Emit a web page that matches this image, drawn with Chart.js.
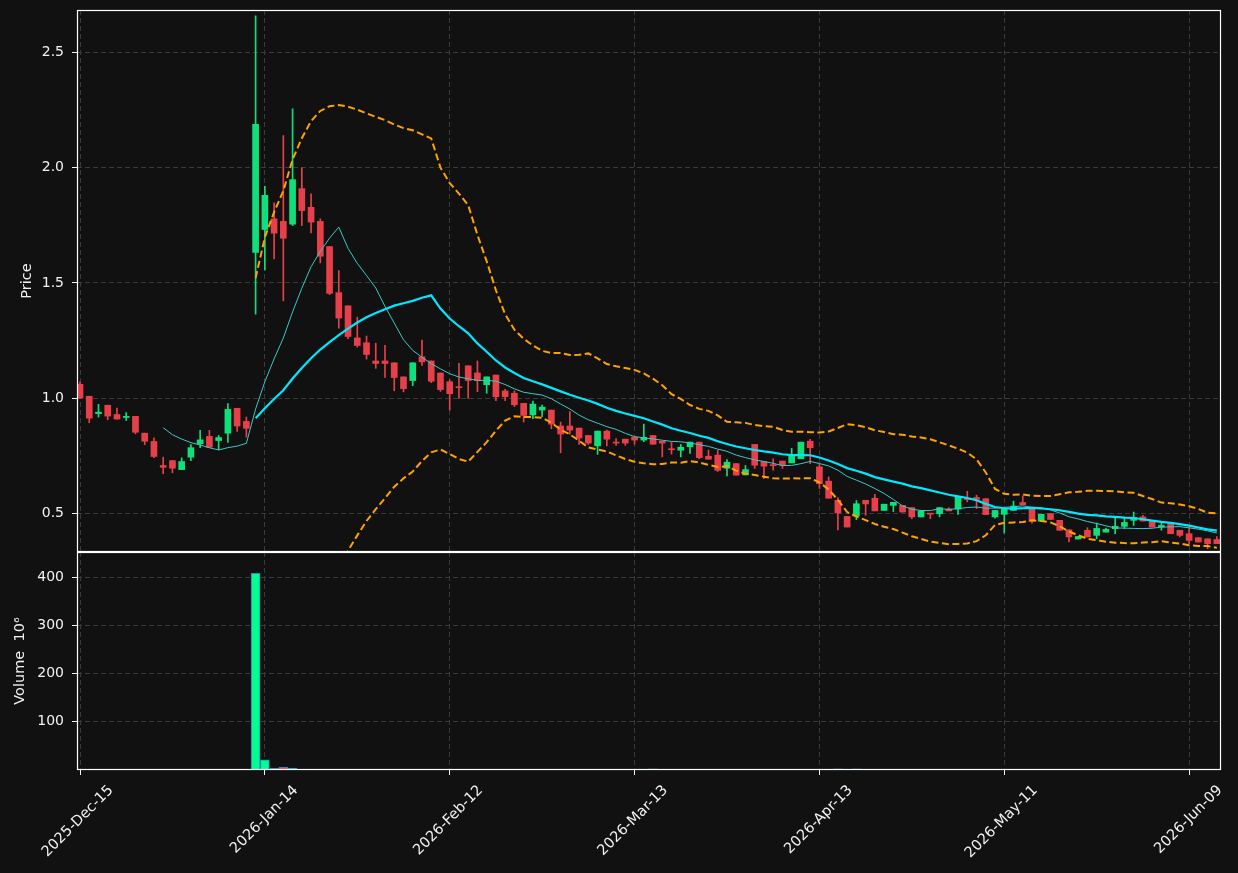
<!DOCTYPE html>
<html>
<head>
<meta charset="utf-8">
<script src="https://cdn.jsdelivr.net/npm/chart.js@4.4.1/dist/chart.umd.min.js"></script>
<style>
  html, body { margin: 0; padding: 0; background: #111111; }
  #wrap { position: relative; width: 1238px; height: 873px; overflow: hidden; }
  #price { position: absolute; left: 0; top: 0; }
  #volume { position: absolute; left: 0; top: 540px; }
</style>
</head>
<body>
<div id="wrap">
  <canvas id="price" width="1238" height="562"></canvas>
  <canvas id="volume" width="1238" height="333"></canvas>
</div>
<script>
// daily OHLC, one entry per trading day
var opens = [1.061, 1.009, 0.934, 0.970, 0.930, 0.917, 0.922, 0.849, 0.813, 0.709,
  0.730, 0.691, 0.745, 0.803, 0.835, 0.817, 0.849, 0.957, 0.900, 1.633,
  1.732, 1.778, 1.767, 1.755, 1.909, 1.828, 1.767, 1.658, 1.458, 1.401,
  1.262, 1.241, 1.162, 1.162, 1.154, 1.093, 1.077, 1.180, 1.162, 1.110,
  1.072, 1.048, 1.141, 1.110, 1.059, 1.101, 1.032, 1.022, 0.978, 0.928,
  0.949, 0.949, 0.880, 0.880, 0.871, 0.839, 0.794, 0.858, 0.808, 0.823,
  0.832, 0.819, 0.839, 0.814, 0.779, 0.775, 0.790, 0.810, 0.749, 0.754,
  0.697, 0.717, 0.668, 0.800, 0.726, 0.710, 0.728, 0.720, 0.738, 0.814,
  0.703, 0.641, 0.558, 0.488, 0.490, 0.558, 0.567, 0.514, 0.536, 0.536,
  0.526, 0.486, 0.500, 0.500, 0.520, 0.520, 0.565, 0.570, 0.565, 0.486,
  0.497, 0.514, 0.548, 0.525, 0.467, 0.500, 0.471, 0.430, 0.390, 0.428,
  0.406, 0.420, 0.435, 0.445, 0.471, 0.486, 0.471, 0.442, 0.457, 0.428,
  0.413, 0.396, 0.391, 0.388];
var highs = [1.071, 1.009, 0.974, 0.970, 0.958, 0.938, 0.922, 0.849, 0.829, 0.745,
  0.730, 0.742, 0.799, 0.861, 0.861, 0.839, 0.977, 0.957, 0.919, 2.658,
  1.919, 1.848, 2.139, 2.255, 2.000, 1.887, 1.778, 1.658, 1.554, 1.401,
  1.352, 1.270, 1.239, 1.230, 1.154, 1.093, 1.154, 1.252, 1.162, 1.110,
  1.080, 1.152, 1.141, 1.162, 1.093, 1.101, 1.039, 1.032, 0.978, 0.988,
  0.971, 0.949, 0.897, 0.943, 0.871, 0.839, 0.858, 0.862, 0.826, 0.823,
  0.832, 0.888, 0.839, 0.814, 0.809, 0.800, 0.810, 0.810, 0.775, 0.775,
  0.735, 0.717, 0.709, 0.800, 0.726, 0.738, 0.728, 0.783, 0.810, 0.822,
  0.714, 0.659, 0.570, 0.488, 0.557, 0.558, 0.584, 0.541, 0.549, 0.536,
  0.526, 0.512, 0.500, 0.526, 0.526, 0.575, 0.597, 0.580, 0.565, 0.514,
  0.519, 0.554, 0.577, 0.525, 0.497, 0.500, 0.471, 0.430, 0.401, 0.439,
  0.459, 0.438, 0.483, 0.483, 0.507, 0.493, 0.471, 0.464, 0.457, 0.428,
  0.442, 0.396, 0.391, 0.401];
var lows = [1.001, 0.894, 0.919, 0.907, 0.910, 0.904, 0.846, 0.799, 0.743, 0.673,
  0.677, 0.691, 0.730, 0.786, 0.788, 0.777, 0.809, 0.857, 0.832, 1.365,
  1.557, 1.604, 1.423, 1.749, 1.749, 1.717, 1.587, 1.449, 1.304, 1.259,
  1.222, 1.170, 1.130, 1.091, 1.033, 1.028, 1.055, 1.143, 1.068, 1.030,
  0.949, 1.000, 1.000, 1.029, 1.022, 0.990, 0.990, 0.964, 0.897, 0.912,
  0.920, 0.868, 0.764, 0.845, 0.800, 0.800, 0.757, 0.794, 0.796, 0.796,
  0.801, 0.812, 0.801, 0.746, 0.758, 0.746, 0.761, 0.738, 0.736, 0.683,
  0.664, 0.667, 0.668, 0.696, 0.652, 0.688, 0.696, 0.720, 0.738, 0.717,
  0.609, 0.567, 0.430, 0.442, 0.474, 0.493, 0.512, 0.514, 0.509, 0.507,
  0.478, 0.486, 0.478, 0.486, 0.512, 0.497, 0.551, 0.522, 0.496, 0.480,
  0.416, 0.514, 0.539, 0.459, 0.467, 0.475, 0.428, 0.378, 0.390, 0.399,
  0.391, 0.420, 0.413, 0.435, 0.449, 0.468, 0.442, 0.428, 0.413, 0.399,
  0.370, 0.377, 0.348, 0.370];
var closes = [1.001, 0.914, 0.940, 0.923, 0.910, 0.922, 0.853, 0.814, 0.748, 0.701,
  0.697, 0.726, 0.786, 0.820, 0.788, 0.830, 0.952, 0.880, 0.870, 2.188,
  1.880, 1.716, 1.694, 1.948, 1.814, 1.764, 1.616, 1.455, 1.348, 1.268,
  1.229, 1.190, 1.151, 1.151, 1.090, 1.042, 1.154, 1.158, 1.074, 1.038,
  1.020, 1.046, 1.077, 1.077, 1.093, 1.007, 1.007, 0.972, 0.926, 0.975,
  0.962, 0.888, 0.845, 0.862, 0.828, 0.806, 0.858, 0.823, 0.806, 0.806,
  0.819, 0.831, 0.801, 0.806, 0.777, 0.788, 0.810, 0.743, 0.736, 0.688,
  0.723, 0.667, 0.691, 0.710, 0.706, 0.708, 0.710, 0.754, 0.810, 0.786,
  0.630, 0.567, 0.503, 0.442, 0.543, 0.542, 0.512, 0.541, 0.549, 0.507,
  0.486, 0.512, 0.498, 0.526, 0.512, 0.575, 0.561, 0.562, 0.496, 0.514,
  0.519, 0.533, 0.539, 0.467, 0.497, 0.475, 0.428, 0.399, 0.401, 0.399,
  0.436, 0.432, 0.445, 0.462, 0.483, 0.468, 0.442, 0.449, 0.413, 0.406,
  0.384, 0.377, 0.370, 0.370];
// volume in millions
var volumes = [0.3, 0.3, 0.3, 0.3, 0.3, 0.3, 0.3, 0.3, 0.3, 0.3,
  0.3, 0.3, 0.3, 0.3, 0.3, 0.3, 0.3, 0.3, 0.3, 408,
  21, 4, 6, 4, 1.5, 0.3, 0.3, 0.3, 0.3, 0.3,
  0.3, 0.3, 0.3, 0.3, 0.3, 0.3, 0.3, 0.3, 0.3, 0.3,
  0.3, 0.3, 0.3, 0.3, 0.3, 0.3, 0.3, 0.3, 0.3, 0.3,
  0.3, 0.3, 0.3, 0.3, 0.3, 0.3, 0.3, 0.3, 0.3, 0.3,
  0.3, 0.3, 2.5, 0.3, 0.3, 0.3, 0.3, 0.3, 0.3, 0.3,
  0.3, 0.3, 0.3, 0.3, 0.3, 0.3, 0.3, 0.3, 0.3, 0.3,
  0.3, 0.3, 2.5, 0.3, 2.5, 0.3, 0.3, 0.3, 0.3, 0.3,
  0.3, 0.3, 0.3, 0.3, 0.3, 0.3, 0.3, 0.3, 0.3, 0.3,
  0.3, 0.3, 0.3, 0.3, 0.3, 0.3, 0.3, 0.3, 0.3, 0.3,
  0.3, 0.3, 0.3, 0.3, 0.3, 0.3, 0.3, 0.3, 0.3, 0.3,
  0.3, 0.3, 0.3, 0.3];

var tickIdx = [0, 20, 40, 60, 80, 100, 120];
var tickLabels = ['2025-Dec-15', '2026-Jan-14', '2026-Feb-12', '2026-Mar-13', '2026-Apr-13', '2026-May-11', '2026-Jun-09'];
var priceTicks = [0.5, 1.0, 1.5, 2.0, 2.5];
var volTicks = [100, 200, 300, 400];

var TXT = '#f2f2f2';
var GRID = '#3a3a3a';
var UP = '#0fe07c';
var DOWN = '#e8404a';
var VUP = '#00ff90';
var VDOWN = '#ff4646';
var FONT = { family: 'DejaVu Sans', size: 14 };
var XFONT = { family: 'DejaVu Sans', size: 14.5 };
var XMIN = -0.325, XMAX = 123.45;

// moving averages and bollinger bands from the closes
function sma(arr, n) {
  return arr.map(function (v, i) {
    if (i < n - 1) return null;
    var s = 0;
    for (var k = i - n + 1; k <= i; k++) s += arr[k];
    return s / n;
  });
}
function band(arr, n, mult) {
  var m = sma(arr, n);
  return arr.map(function (v, i) {
    if (m[i] === null) return null;
    var s = 0;
    for (var k = i - n + 1; k <= i; k++) s += (arr[k] - m[i]) * (arr[k] - m[i]);
    return m[i] + mult * Math.sqrt(s / n);
  });
}
function toPoints(arr) {
  var out = [];
  arr.forEach(function (v, i) { if (v !== null) out.push({ x: i, y: v }); });
  return out;
}

var ma10 = sma(closes, 10);
var ma20 = sma(closes, 20);
var bbUp = band(closes, 20, 2);
var bbLo = band(closes, 20, -2);

var isUp = closes.map(function (c, i) { return c >= opens[i]; });
var bodies = closes.map(function (c, i) { return { x: i, y: [opens[i], c] }; });
var wicks = closes.map(function (c, i) { return { x: i, y: [lows[i], highs[i]] }; });
var volPts = volumes.map(function (v, i) { return { x: i, y: v }; });

// white box round each panel
var framePlugin = {
  id: 'frame',
  afterDraw: function (chart) {
    var a = chart.chartArea, ctx = chart.ctx;
    ctx.save();
    ctx.strokeStyle = '#ffffff';
    ctx.lineWidth = 1.2;
    ctx.strokeRect(Math.round(a.left) + 0.5, Math.round(a.top) + 0.5,
      Math.round(a.right - a.left) - 1, Math.round(a.bottom - a.top) - 1);
    ctx.restore();
  }
};

Chart.defaults.font.family = 'DejaVu Sans';
Chart.defaults.font.size = 14;
Chart.defaults.color = TXT;

function xScale(showLabels) {
  return {
    type: 'linear',
    min: XMIN,
    max: XMAX,
    offset: false,
    afterBuildTicks: function (s) { s.ticks = tickIdx.map(function (v) { return { value: v }; }); },
    afterFit: function (s) {
      s.height = showLabels ? 103 : 0;
      s.paddingLeft = 0;
      s.paddingRight = 0;
    },
    ticks: {
      display: showLabels,
      color: TXT,
      font: XFONT,
      autoSkip: false,
      minRotation: 45,
      maxRotation: 45,
      labelOffset: 31,
      padding: 7,
      callback: function (v) { return tickLabels[Math.round(v / 20)]; }
    },
    grid: { offset: false, color: GRID, lineWidth: 1, drawTicks: showLabels, tickColor: TXT, tickLength: 5, tickWidth: 1 },
    border: { display: false, dash: [5, 3] }
  };
}

function yScale(lo, hi, list, fmt, title, titlePad) {
  return {
    min: lo,
    max: hi,
    afterBuildTicks: function (s) { s.ticks = list.map(function (v) { return { value: v }; }); },
    afterFit: function (s) {
      s.width = 77;
      s.paddingTop = 0;
      s.paddingBottom = 0;
    },
    ticks: { color: TXT, font: FONT, padding: 8, callback: fmt },
    grid: { color: GRID, lineWidth: 1, tickColor: TXT, tickLength: 5, tickWidth: 1 },
    border: { display: false, dash: [5, 3] },
    title: { display: true, text: title, color: TXT, font: XFONT, padding: { top: titlePad, bottom: 0 } }
  };
}

var priceChart = new Chart(document.getElementById('price'), {
  type: 'bar',
  data: {
    datasets: [{
      type: 'line',
      data: toPoints(bbUp),
      borderColor: '#ffa200',
      borderWidth: 2,
      borderDash: [7, 3.5],
      pointRadius: 0,
      order: 0
    }, {
      type: 'line',
      data: toPoints(bbLo),
      borderColor: '#ffa200',
      borderWidth: 2,
      borderDash: [7, 3.5],
      pointRadius: 0,
      order: 0
    }, {
      type: 'line',
      data: toPoints(ma20),
      borderColor: '#00e8ff',
      borderWidth: 2.2,
      pointRadius: 0,
      order: 1
    }, {
      type: 'line',
      data: toPoints(ma10),
      borderColor: '#3cc8c8',
      borderWidth: 1,
      pointRadius: 0,
      order: 2
    }, {
      data: bodies,
      backgroundColor: isUp.map(function (u) { return u ? UP : DOWN; }),
      barThickness: 6,
      minBarLength: 1,
      grouped: false,
      order: 3
    }, {
      data: wicks,
      backgroundColor: isUp.map(function (u) { return u ? UP : DOWN; }),
      barThickness: 1,
      grouped: false,
      order: 4
    }]
  },
  options: {
    responsive: false,
    animation: false,
    events: [],
    layout: { padding: { top: 10, right: 17, bottom: 10, left: 0 } },
    plugins: { legend: { display: false }, tooltip: { enabled: false } },
    scales: {
      x: xScale(false),
      y: yScale(0.3338, 2.6835, priceTicks, function (v) { return v.toFixed(1); }, 'Price', 18.3)
    }
  },
  plugins: [framePlugin]
});

var volChart = new Chart(document.getElementById('volume'), {
  type: 'bar',
  data: {
    datasets: [{
      data: volPts,
      backgroundColor: isUp.map(function (u) { return u ? VUP : VDOWN; }),
      borderColor: '#2a86c8',
      borderWidth: 1,
      barThickness: 9,
      grouped: false
    }]
  },
  options: {
    responsive: false,
    animation: false,
    events: [],
    layout: { padding: { top: 12, right: 17, bottom: 0, left: 0 } },
    plugins: { legend: { display: false }, tooltip: { enabled: false } },
    scales: {
      x: xScale(true),
      y: yScale(0, 452, volTicks, function (v) { return String(v); }, 'Volume  10\u2076', 11.3)
    }
  },
  plugins: [framePlugin]
});
</script>
</body>
</html>
